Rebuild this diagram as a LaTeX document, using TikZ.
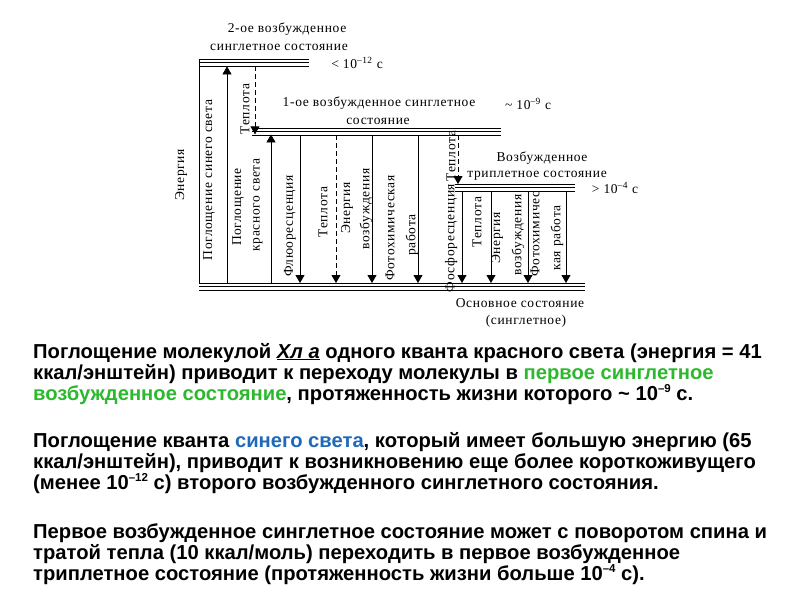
\documentclass[tikz,border=0pt]{standalone}
\usepackage{fontspec}
\setmainfont{Liberation Sans}
\newfontfamily\dfont[LetterSpace=5]{Liberation Serif}
\usetikzlibrary{arrows.meta}
\definecolor{tgreen}{RGB}{45,185,45}
\definecolor{tblue}{RGB}{30,105,185}
\newcommand\bsup[1]{\raisebox{0.36em}{\fontsize{11.5}{11.5}\selectfont #1}}
\begin{document}
\begin{tikzpicture}[x=1pt,y=-1pt,
  lbl/.style={font=\dfont\fontsize{13.5}{15}\selectfont, inner sep=0pt},
  vlbl/.style={lbl, rotate=90},
  body/.style={font=\fontsize{20.2}{23}\selectfont\bfseries, anchor=base west, inner sep=0pt},
  arr/.style={line width=0.8pt, -{Triangle[width=9pt,length=8pt]}},
  darr/.style={arr, dash pattern=on 5pt off 3pt},
  lvl/.style={inner sep=0pt, minimum height=7pt, anchor=north west},
  ll/.style={line width=1pt}]
\useasboundingbox[fill=white] (0,0) rectangle (800,600);

% levels
\node[lvl, minimum width=110pt] (L2) at (199,59) {};
\node[lvl, minimum width=249pt] (L1) at (252,128) {};
\node[lvl, minimum width=120pt] (LT) at (455,184) {};
\node[lvl, minimum width=386pt] (L0) at (199,283) {};
\foreach \L in {L2,L1,LT,L0}{
  \draw[ll] (\L.north west) -- (\L.north east);
  \draw[line width=0.7pt] (\L.west) -- (\L.east);
  \draw[ll] (\L.south west) -- (\L.south east);
}
% axis
\draw[ll] (L2.north west) -- (L0.north west);

% columns
\coordinate (cB) at (227,0);
\coordinate (cR) at (271,0);
\coordinate (cH1) at (255,0);
\coordinate (cF) at (300,0);
\coordinate (cH2) at (336,0);
\coordinate (cE1) at (372,0);
\coordinate (cP1) at (418,0);
\coordinate (cH3) at (458,0);
\coordinate (cPh) at (462,0);
\coordinate (cH4) at (491,0);
\coordinate (cE2) at (528,0);
\coordinate (cP2) at (566,0);

\draw[arr] (L0.north -| cB) -- (L2.south -| cB);
\draw[arr] (L0.north -| cR) -- ([yshift=1pt]L1.south -| cR);
\draw[darr] (L2.south -| cH1) -- ([yshift=1pt]L1.south -| cH1);
\draw[arr] (L1.south -| cF) -- (L0.north -| cF);
\draw[darr] (L1.south -| cH2) -- (L0.north -| cH2);
\draw[arr] (L1.south -| cE1) -- (L0.north -| cE1);
\draw[arr] (L1.south -| cP1) -- (L0.north -| cP1);
\draw[darr] (L1.south -| cH3) -- (LT.north -| cH3);
\draw[arr] (LT.south -| cPh) -- (L0.north -| cPh);
\draw[arr] (LT.south -| cH4) -- (L0.north -| cH4);
\draw[arr] (LT.south -| cE2) -- (L0.north -| cE2);
\draw[arr] (LT.south -| cP2) -- (L0.north -| cP2);

% horizontal labels
\node[lbl] (t2a) at (287,29) {2-ое возбужденное};
\node[lbl] (t2b) at (279,47) {синглетное состояние};
\node[lbl] (t2c) at (357,63) {< 10\textsuperscript{–12} с};
\node[lbl] (t1a) at (379,103) {1-ое возбужденное синглетное};
\node[lbl] (t1b) at (378,121) {состояние};
\node[lbl] (t1c) at (528,104) {\textasciitilde\ 10\textsuperscript{–9} с};
\node[lbl] (tTa) at (542,158) {Возбужденное};
\node[lbl] (tTb) at (537,176) {триплетное состояние};
\node[lbl] (tTc) at (615,188) {> 10\textsuperscript{–4} с};
\node[lbl] (t0a) at (520,303) {Основное состояние};
\node[lbl] (t0b) at (526,321) {(синглетное)};

% vertical labels
\node[vlbl] (vE) at (181,175) {Энергия};
\node[vlbl] (vB) at (209,180) {Поглощение синего света};
\node[vlbl] (vRa) at (238,207) {Поглощение};
\node[vlbl] (vRb) at (258,205) {красного света};
\node[vlbl] (vH1) at (245,109) {Теплота};
\node[vlbl] (vF) at (290,226) {Флюоресценция};
\node[vlbl] (vH2) at (323,212) {Теплота};
\node[vlbl] (vE1a) at (347,208) {Энергия};
\node[vlbl] (vE1b) at (366,209) {возбуждения};
\node[vlbl] (vP1a) at (390,228) {Фотохимическая};
\node[vlbl] (vP1b) at (412,235) {работа};
\node[vlbl] (vH3) at (451,156) {Теплота};
\node[vlbl] (vPh) at (451,238) {Фосфоресценция};
\node[vlbl] (vH4) at (477,222) {Теплота};
\node[vlbl] (vE2a) at (497,238) {Энергия};
\node[vlbl] (vE2b) at (518,235) {возбуждения};
\node[vlbl] (vP2a) at (535,234) {Фотохимичес};
\node[vlbl] (vP2b) at (557,238) {кая работа};

% body text
\node[body] (p1a) at (33,358) {Поглощение молекулой \underline{\itshape Хл а} одного кванта красного света (энергия = 41};
\node[body] (p1b) at (33,379) {ккал/энштейн) приводит к переходу молекулы в \textcolor{tgreen}{первое синглетное}};
\node[body] (p1c) at (33,400) {\textcolor{tgreen}{возбужденное состояние}, протяженность жизни которого \textasciitilde\ 10\bsup{–9} с.};
\node[body] (p2a) at (33,447) {Поглощение кванта \textcolor{tblue}{синего света}, который имеет большую энергию (65};
\node[body] (p2b) at (33,468) {ккал/энштейн), приводит к возникновению еще более короткоживущего};
\node[body] (p2c) at (33,489) {(менее 10\bsup{–12} с) второго возбужденного синглетного состояния.};
\node[body] (p3a) at (33,538) {Первое возбужденное синглетное состояние может с поворотом спина и};
\node[body] (p3b) at (33,559) {тратой тепла (10 ккал/моль) переходить в первое возбужденное};
\node[body] (p3c) at (33,580) {триплетное состояние (протяженность жизни больше 10\bsup{–4} с).};
\end{tikzpicture}
\end{document}
